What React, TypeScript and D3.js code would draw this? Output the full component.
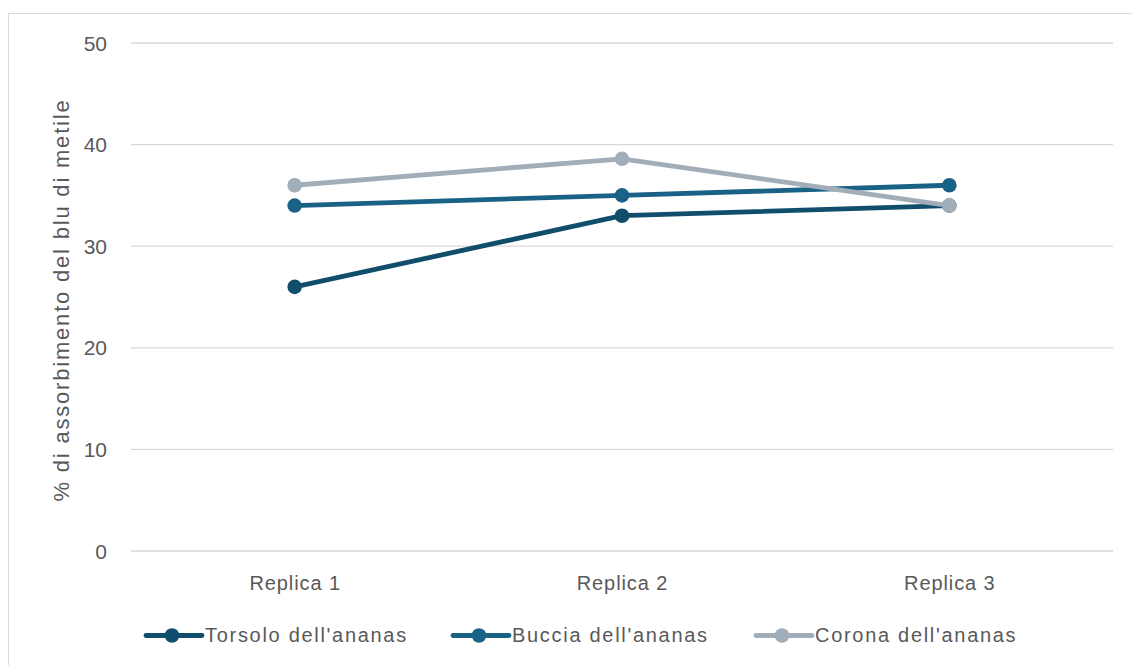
import React from "react";
import * as d3 from "d3";

const categories = ["Replica 1", "Replica 2", "Replica 3"];
const seriesNames = ["Torsolo dell'ananas", "Buccia dell'ananas", "Corona dell'ananas"];
const torsolo = [26, 33, 34];
const buccia = [34, 35, 36];
const corona = [36, 38.6, 34];
const yTicks = [0, 10, 20, 30, 40, 50];
const colors = ["#114e6c", "#1a6285", "#a1adb8"];

const W = 1132;
const H = 665;
const margin = { left: 131, right: 19, top: 43, bottom: 114 };
const FONT = "Liberation Sans, Arial, sans-serif";
const TEXT_COLOR = "#595959";

export default function App() {
  const x = d3
    .scaleBand<string>()
    .domain(categories)
    .range([margin.left, W - margin.right])
    .padding(0);
  const y = d3.scaleLinear().domain([0, 50]).range([H - margin.bottom, margin.top]);
  const cx = (i: number) => (x(categories[i]) as number) + x.bandwidth() / 2;
  const line = d3
    .line<number>()
    .x((_, i) => cx(i))
    .y((d) => y(d));
  const series = [torsolo, buccia, corona];

  const legendX = [146, 453, 756];
  const legendY = 635.5;

  return (
    <svg
      width={W}
      height={H}
      style={{ position: "absolute", left: 0, top: 0, background: "#fff" }}
    >
      <rect x={0} y={0} width={W} height={H} fill="#fff" />
      {/* chart frame */}
      <line x1={8.5} y1={13.5} x2={W} y2={13.5} stroke="#d9d9d9" strokeWidth={1} />
      <line x1={8.5} y1={13.5} x2={8.5} y2={H} stroke="#d9d9d9" strokeWidth={1} />

      {/* gridlines and y tick labels */}
      {yTicks.map((t) => (
        <g key={t}>
          <line
            x1={margin.left}
            x2={W - margin.right}
            y1={y(t)}
            y2={y(t)}
            stroke="#d9d9d9"
            strokeWidth={1.3}
          />
          <text
            x={107}
            y={y(t) + 7.5}
            textAnchor="end"
            fontFamily={FONT}
            fontSize={21}
            fill={TEXT_COLOR}
          >
            {t}
          </text>
        </g>
      ))}

      {/* y axis title */}
      <text
        transform={`translate(69, 300) rotate(-90)`}
        textAnchor="middle"
        fontFamily={FONT}
        fontSize={22}
        letterSpacing={1.8}
        fill={TEXT_COLOR}
      >
        % di assorbimento del blu di metile
      </text>

      {/* category labels */}
      {categories.map((c, i) => (
        <text
          key={c}
          x={cx(i) + 0.5}
          y={590}
          textAnchor="middle"
          fontFamily={FONT}
          fontSize={20}
          letterSpacing={0.9}
          fill={TEXT_COLOR}
        >
          {c}
        </text>
      ))}

      {/* series lines and markers */}
      {series.map((s, si) => (
        <g key={si}>
          <path
            d={line(s) as string}
            fill="none"
            stroke={colors[si]}
            strokeWidth={4.8}
            strokeLinejoin="round"
            strokeLinecap="round"
          />
          {s.map((v, i) => (
            <circle key={i} cx={cx(i)} cy={y(v)} r={7.3} fill={colors[si]} />
          ))}
        </g>
      ))}

      {/* legend */}
      {seriesNames.map((n, i) => (
        <g key={n}>
          <line
            x1={legendX[i]}
            x2={legendX[i] + 56}
            y1={legendY}
            y2={legendY}
            stroke={colors[i]}
            strokeWidth={4.8}
            strokeLinecap="round"
          />
          <circle cx={legendX[i] + 26} cy={legendY} r={7.3} fill={colors[i]} />
          <text
            x={legendX[i] + 59}
            y={642}
            fontFamily={FONT}
            fontSize={20}
            letterSpacing={1.7}
            fill={TEXT_COLOR}
          >
            {n}
          </text>
        </g>
      ))}
    </svg>
  );
}
